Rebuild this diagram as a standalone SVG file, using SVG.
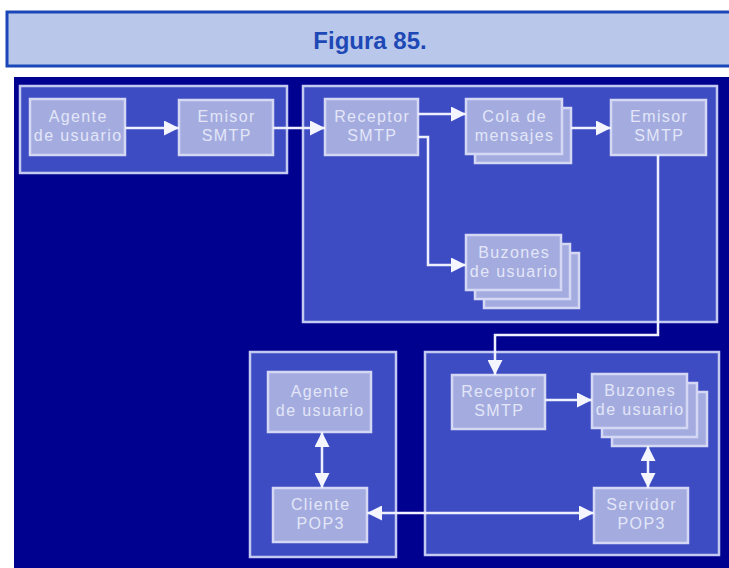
<svg xmlns="http://www.w3.org/2000/svg" width="729" height="568" viewBox="0 0 729 568">
<defs>
<style>
.panel{fill:#3d4cc2;stroke:#c3c9f0;stroke-width:2.5}
.node{fill:#a4acdf;stroke:#d4d8f4;stroke-width:2.5}
.lbl{font-family:"Liberation Sans",Arial,sans-serif;font-size:16px;letter-spacing:1.4px;fill:#e3e6f8;text-anchor:middle}
.conn{fill:none;stroke:#eef0ff;stroke-width:2.5}
</style>
<marker id="ah" viewBox="0 0 10 10" refX="10" refY="5" markerWidth="15" markerHeight="15" markerUnits="userSpaceOnUse" orient="auto-start-reverse">
<path d="M0,0 L10,5 L0,10 Z" fill="#f4f5ff"/>
</marker>
</defs>
<rect x="0" y="0" width="729" height="568" fill="#ffffff"/>
<g id="header">
<rect x="7" y="12" width="730" height="54" fill="#b9c8ea" stroke="#1b46b8" stroke-width="3"/>
<text x="370" y="49" font-family="Liberation Sans,Arial,sans-serif" font-size="24" font-weight="bold" fill="#1e48b6" text-anchor="middle">Figura 85.</text>
</g>
<rect x="14" y="77" width="715" height="491" fill="#01018f"/>
<g id="panels">
<rect class="panel" x="20" y="86" width="267" height="87"/>
<rect class="panel" x="303" y="86" width="414" height="236"/>
<rect class="panel" x="250" y="352" width="146" height="205"/>
<rect class="panel" x="425" y="352" width="294" height="203"/>
</g>
<g id="agente1"><rect class="node" x="30" y="99" width="95" height="56"/><text class="lbl" x="78.2" y="122">Agente</text><text class="lbl" x="78.2" y="141">de usuario</text></g>
<g id="emisor1"><rect class="node" x="179" y="100" width="94" height="55"/><text class="lbl" x="226.7" y="122">Emisor</text><text class="lbl" x="226.7" y="141">SMTP</text></g>
<g id="receptor1"><rect class="node" x="325" y="99" width="93" height="56"/><text class="lbl" x="372.2" y="122">Receptor</text><text class="lbl" x="372.2" y="141">SMTP</text></g>
<g id="cola"><rect class="node" x="475" y="108" width="96" height="55"/><rect class="node" x="466" y="99" width="96" height="55"/><text class="lbl" x="514.7" y="122">Cola de</text><text class="lbl" x="514.7" y="141">mensajes</text></g>
<g id="emisor2"><rect class="node" x="611" y="100" width="95" height="55"/><text class="lbl" x="659.2" y="122">Emisor</text><text class="lbl" x="659.2" y="141">SMTP</text></g>
<g id="buzones1"><rect class="node" x="484" y="253" width="95" height="55"/><rect class="node" x="475" y="244" width="95" height="55"/><rect class="node" x="466" y="235" width="95" height="55"/><text class="lbl" x="514.2" y="258">Buzones</text><text class="lbl" x="514.2" y="277">de usuario</text></g>
<g id="agente2"><rect class="node" x="268" y="372" width="103" height="60"/><text class="lbl" x="320.2" y="397">Agente</text><text class="lbl" x="320.2" y="416">de usuario</text></g>
<g id="cliente"><rect class="node" x="273" y="488" width="94" height="54"/><text class="lbl" x="320.7" y="510">Cliente</text><text class="lbl" x="320.7" y="529">POP3</text></g>
<g id="receptor2"><rect class="node" x="452" y="375" width="93" height="54"/><text class="lbl" x="499.2" y="397">Receptor</text><text class="lbl" x="499.2" y="416">SMTP</text></g>
<g id="buzones2"><rect class="node" x="612" y="392" width="95" height="54"/><rect class="node" x="602" y="383" width="95" height="54"/><rect class="node" x="592" y="374" width="95" height="54"/><text class="lbl" x="640.2" y="396">Buzones</text><text class="lbl" x="640.2" y="415">de usuario</text></g>
<g id="servidor"><rect class="node" x="594" y="488" width="94" height="55"/><text class="lbl" x="641.7" y="510">Servidor</text><text class="lbl" x="641.7" y="529">POP3</text></g>
<g id="connectors">
<path class="conn" d="M125,128 H179" marker-end="url(#ah)"/>
<path class="conn" d="M273,128 H325" marker-end="url(#ah)"/>
<path class="conn" d="M418,114 H466" marker-end="url(#ah)"/>
<path class="conn" d="M571,128 H611" marker-end="url(#ah)"/>
<path class="conn" d="M418,137 H428 V265 H466" marker-end="url(#ah)"/>
<path class="conn" d="M658,155 V335 H495 V375" marker-end="url(#ah)"/>
<path class="conn" d="M545,400 H592" marker-end="url(#ah)"/>
<path class="conn" d="M322,432 V488" marker-start="url(#ah)" marker-end="url(#ah)"/>
<path class="conn" d="M648,446 V488" marker-start="url(#ah)" marker-end="url(#ah)"/>
<path class="conn" d="M367,513 H594" marker-start="url(#ah)" marker-end="url(#ah)"/>
</g>
</svg>
